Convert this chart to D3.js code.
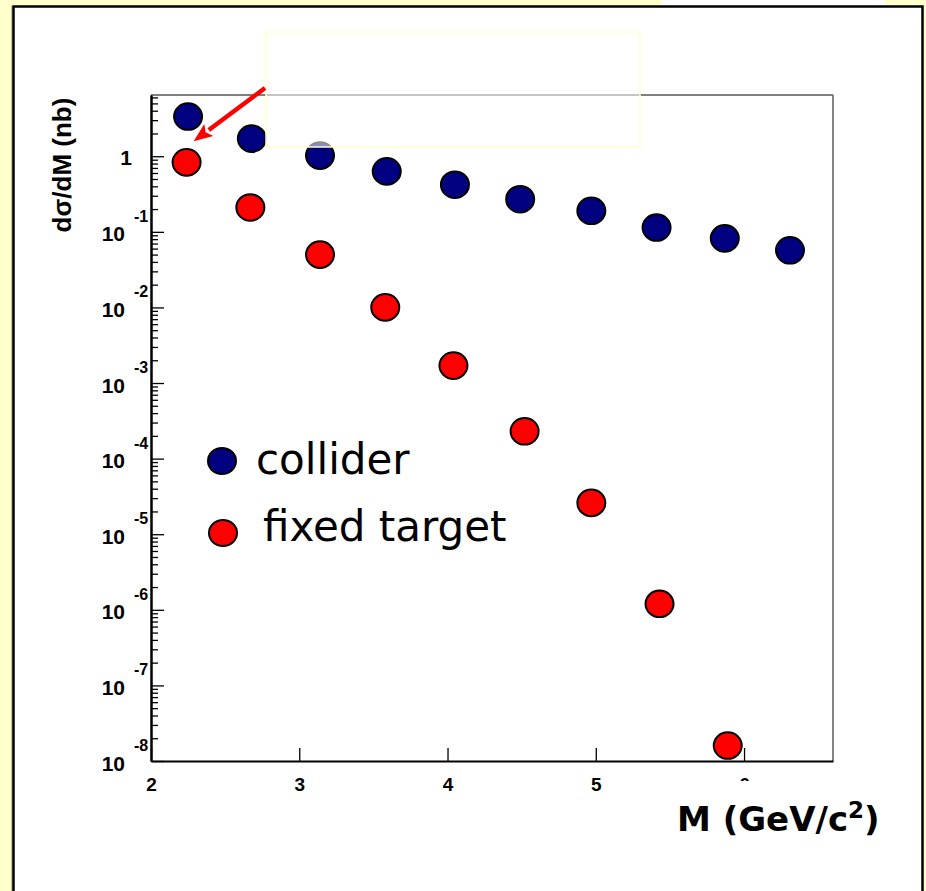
<!DOCTYPE html>
<html>
<head>
<meta charset="utf-8">
<script src="https://cdn.jsdelivr.net/npm/d3@7"></script>
<style>
  html, body { margin: 0; padding: 0; background: #ffffcc; }
  svg { display: block; }
</style>
</head>
<body>
<script>
// Drell-Yan style mass spectrum: dσ/dM versus dilepton mass M, two setups.
const colliderM = [2.25, 2.68, 3.14, 3.59, 4.05, 4.49, 4.97, 5.41, 5.87, 6.31];
const colliderXsec = [3.35, 1.71, 1.02, 0.63, 0.42, 0.27, 0.19, 0.114, 0.082, 0.057];
const fixedM = [2.24, 2.67, 3.14, 3.58, 4.04, 4.52, 4.97, 5.43, 5.89];
const fixedXsec = [0.83, 0.21, 0.050, 0.0100, 1.7e-3, 2.3e-4, 2.6e-5, 1.2e-6, 1.6e-8];

const xTicks = [2, 3, 4, 5, 6];
const yExponents = [0, -1, -2, -3, -4, -5, -6, -7, -8];
const seriesNames = ["collider", "fixed target"];
const seriesColors = ["#000080", "#ff0000"];

const W = 926, H = 891;
const svg = d3.select("body").append("svg").attr("width", W).attr("height", H);

// page background and white slide panel
svg.append("rect").attr("width", W).attr("height", H).attr("fill", "#ffffcc");
svg.append("rect").attr("x", 662).attr("y", 0).attr("width", 223).attr("height", 7).attr("fill", "#fff");
svg.append("rect").attr("x", 11).attr("y", 6).attr("width", 4).attr("height", H).attr("fill", "#8a8a60").attr("opacity", 0.5);
svg.append("rect").attr("x", 13.5).attr("y", 6.5).attr("width", 909).attr("height", H + 10)
  .attr("fill", "#fff").attr("stroke", "#000").attr("stroke-width", 2.5);

const plotL = 151, plotR = 833, plotT = 95, plotB = 761;
const x = d3.scaleLinear().domain([2, 6.6]).range([plotL, plotR]);
const y = d3.scaleLog().domain([1e-8, Math.pow(10, 0.81)]).range([plotB, plotT]);

const bold = "'Liberation Sans', Arial, Helvetica, sans-serif";

// frame: top and right edges
svg.append("line").attr("x1", plotL).attr("x2", plotR).attr("y1", plotT).attr("y2", plotT)
  .attr("stroke", "#000").attr("stroke-width", 1.2);
svg.append("line").attr("x1", plotR).attr("x2", plotR).attr("y1", plotT).attr("y2", plotB)
  .attr("stroke", "#666").attr("stroke-width", 1.6);

// y axis: major and minor log ticks pointing inward
const majors = yExponents.map(e => Math.pow(10, e));
const minors = [];
yExponents.forEach(e => {
  for (let k = 2; k <= 9; k++) {
    const v = k * Math.pow(10, e);
    if (v <= y.domain()[1]) minors.push(v);
  }
});
const yAxisMajor = svg.append("g").attr("transform", `translate(${plotL},0)`)
  .call(d3.axisLeft(y).tickValues(majors).tickSize(-13).tickSizeOuter(0).tickFormat(""));
const yAxisMinor = svg.append("g").attr("transform", `translate(${plotL},0)`)
  .call(d3.axisLeft(y).tickValues(minors).tickSize(-7).tickSizeOuter(0).tickFormat(""));
[yAxisMajor, yAxisMinor].forEach(g => {
  g.select(".domain").attr("stroke", "#000").attr("stroke-width", 2);
  g.selectAll(".tick line").attr("stroke", "#000").attr("stroke-width", 1.3);
});

// y tick labels: "1" and 10 with superscript exponent
const yLab = svg.append("g").attr("font-family", bold).attr("font-weight", "bold").attr("fill", "#000");
yExponents.forEach(e => {
  const ty = y(Math.pow(10, e));
  if (e === 0) {
    yLab.append("text").attr("x", 132).attr("y", ty + 9).attr("text-anchor", "end")
      .attr("font-size", 21).text("1");
  } else {
    yLab.append("text").attr("x", 125).attr("y", ty + 9.5).attr("text-anchor", "end")
      .attr("font-size", 21).text("10");
    yLab.append("text").attr("x", 134).attr("y", ty - 10).attr("text-anchor", "start")
      .attr("font-size", 16).text(String(e));
  }
});

// x axis
const xAxis = svg.append("g").attr("transform", `translate(0,${plotB})`)
  .call(d3.axisBottom(x).tickValues(xTicks).tickFormat(d3.format("d"))
    .tickSize(-13).tickSizeOuter(0).tickPadding(17));
xAxis.select(".domain").attr("stroke", "#000").attr("stroke-width", 2.2);
xAxis.selectAll(".tick line").attr("stroke", "#000").attr("stroke-width", 1.3);
xAxis.selectAll(".tick text").attr("font-family", bold).attr("font-weight", "bold")
  .attr("font-size", 19).attr("fill", "#000");

// data points
function drawSeries(ms, vals, color) {
  svg.append("g").selectAll("ellipse").data(ms.map((m, i) => [m, vals[i]])).join("ellipse")
    .attr("cx", d => x(d[0])).attr("cy", d => y(d[1]))
    .attr("rx", 14).attr("ry", 13.3)
    .attr("fill", color).attr("stroke", "#000").attr("stroke-width", 2);
}
drawSeries(colliderM, colliderXsec, seriesColors[0]);
drawSeries(fixedM, fixedXsec, seriesColors[1]);

// translucent callout box over the top of the frame
svg.append("rect").attr("x", 266).attr("y", 32).attr("width", 374).attr("height", 115)
  .attr("fill", "#fff").attr("fill-opacity", 0.55).attr("stroke", "#ffffcc").attr("stroke-width", 1.5);

// red arrow from the callout to the first fixed-target point
const tipX = x(fixedM[0]) + 7, tipY = y(fixedXsec[0]) - 21;
const startX = 265, startY = 88;
const ang = Math.atan2(tipY - startY, tipX - startX);
const headLen = 19, headHalf = 7.5;
const bx = tipX - headLen * Math.cos(ang), by = tipY - headLen * Math.sin(ang);
svg.append("line").attr("x1", startX).attr("y1", startY).attr("x2", bx).attr("y2", by)
  .attr("stroke", "#ff0000").attr("stroke-width", 4.5);
svg.append("polygon")
  .attr("points", [
    [tipX, tipY],
    [bx - headHalf * Math.sin(ang), by + headHalf * Math.cos(ang)],
    [bx + 4 * Math.cos(ang), by + 4 * Math.sin(ang)],
    [bx + headHalf * Math.sin(ang), by - headHalf * Math.cos(ang)]
  ].map(p => p.join(",")).join(" "))
  .attr("fill", "#ff0000");

// legend
const legend = svg.append("g");
const legendRows = [{ cx: 222, cy: 461, ty: 474 }, { cx: 223, cy: 533, ty: 541 }];
seriesNames.forEach((name, i) => {
  const r = legendRows[i];
  legend.append("ellipse").attr("cx", r.cx).attr("cy", r.cy).attr("rx", 14).attr("ry", 13)
    .attr("fill", seriesColors[i]).attr("stroke", "#000").attr("stroke-width", 2);
  legend.append("text").attr("x", i === 0 ? 256 : 263).attr("y", r.ty)
    .attr("font-family", "'Comic Sans MS', 'DejaVu Sans', sans-serif")
    .attr("font-size", 42).attr("fill", "#000").text(name);
});

// x axis title with opaque background
svg.append("rect").attr("x", 672).attr("y", 781).attr("width", 220).attr("height", 62).attr("fill", "#fff");
const xt = svg.append("text").attr("x", 677).attr("y", 831)
  .attr("font-family", "'Comic Sans MS', 'DejaVu Sans', sans-serif")
  .attr("font-weight", "bold").attr("font-size", 34).attr("fill", "#000");
xt.append("tspan").text("M (GeV/c");
xt.append("tspan").attr("dy", -13).attr("font-size", 23).text("2");
xt.append("tspan").attr("dy", 13).text(")");

// y axis title
svg.append("text")
  .attr("transform", `translate(71,165) rotate(-90)`)
  .attr("text-anchor", "middle")
  .attr("font-family", bold).attr("font-weight", "bold").attr("font-size", 26)
  .attr("fill", "#000").text("dσ/dM (nb)");
</script>
</body>
</html>
